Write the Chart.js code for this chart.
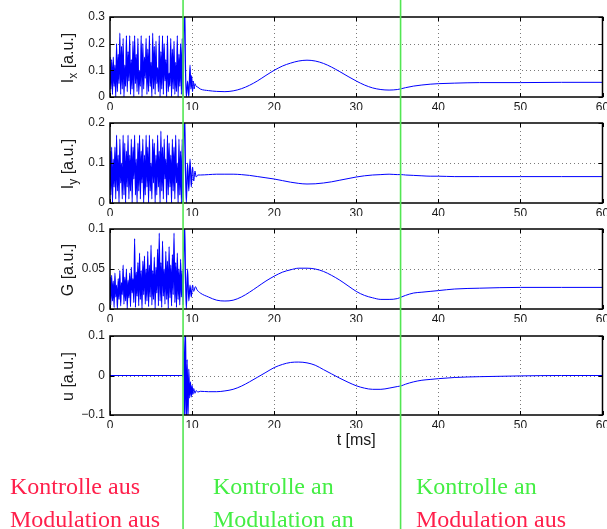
<!DOCTYPE html>
<html><head><meta charset="utf-8">
<script src="https://cdn.jsdelivr.net/npm/chart.js@4/dist/chart.umd.min.js"></script>
<style>
html,body{margin:0;padding:0;background:#fff;width:607px;height:529px;overflow:hidden;}
.pane{position:absolute;left:0;width:607px;}
.pane canvas{display:block;}
.note{position:absolute;font-family:'Liberation Serif','Times New Roman',serif;font-size:24px;line-height:24px;white-space:nowrap;z-index:5;}
</style></head><body>
<div class="pane" style="top:0;height:110px"><canvas id="c1" width="607" height="110"></canvas></div>
<div class="pane" style="top:110px;height:106px"><canvas id="c2" width="607" height="106"></canvas></div>
<div class="pane" style="top:216px;height:106px"><canvas id="c3" width="607" height="106"></canvas></div>
<div class="pane" style="top:322px;height:207px"><canvas id="c4" width="607" height="207"></canvas></div>

<div class="note" style="left:10px;top:474px;color:#ff1f4b">Kontrolle aus</div>
<div class="note" style="left:10px;top:507px;color:#ff1f4b">Modulation aus</div>
<div class="note" style="left:213px;top:474px;color:#44ee44">Kontrolle an</div>
<div class="note" style="left:213px;top:507px;color:#44ee44">Modulation an</div>
<div class="note" style="left:416px;top:474px;color:#44ee44">Kontrolle an</div>
<div class="note" style="left:416px;top:507px;color:#ff1f4b">Modulation aus</div>

<script>
// ---------- data ----------
const chaosStep = 0.1; // ms between samples of the uncontrolled (chaotic) phase, t = 0 ... 8.8
const switchTimes = [8.9, 35.4]; // control on, modulation off

const xTicks = [0, 10, 20, 30, 40, 50, 60];

const ixTicks = [0, 0.1, 0.2, 0.3];
const ixTickLabels = ['0', '0.1', '0.2', '0.3'];
const iyTicks = [0, 0.1, 0.2];
const iyTickLabels = ['0', '0.1', '0.2'];
const gTicks = [0, 0.05, 0.1];
const gTickLabels = ['0', '0.05', '0.1'];
const uTicks = [-0.1, 0, 0.1];
const uTickLabels = ['\u22120.1', '0', '0.1'];

// chaotic phase (control off)
const ixChaos = [0.15,0.03,0.14,0.01,0.15,0.04,0.12,0.00,0.20,0.02,0.16,0.05,0.24,0.01,0.19,0.03,0.22,0.00,0.12,0.04,
  0.23,0.02,0.17,0.06,0.23,0.01,0.14,0.03,0.21,0.00,0.23,0.05,0.16,0.02,0.22,0.01,0.10,0.04,0.23,0.00,
  0.20,0.03,0.15,0.07,0.22,0.01,0.18,0.02,0.23,0.04,0.13,0.00,0.24,0.03,0.19,0.01,0.21,0.05,0.11,0.02,
  0.23,0.00,0.17,0.03,0.23,0.01,0.20,0.06,0.14,0.00,0.23,0.02,0.09,0.04,0.22,0.00,0.18,0.03,0.21,0.01,
  0.13,0.02,0.23,0.00,0.16,0.04,0.20,0.01,0.22];
const iyChaos = [0.13,0.02,0.14,0.00,0.11,0.04,0.14,0.01,0.17,0.03,0.12,0.00,0.16,0.05,0.10,0.01,0.17,0.02,0.15,0.00,
  0.13,0.04,0.17,0.01,0.12,0.03,0.16,0.00,0.14,0.06,0.17,0.02,0.11,0.00,0.15,0.03,0.17,0.01,0.13,0.05,
  0.16,0.00,0.12,0.02,0.17,0.04,0.14,0.00,0.17,0.03,0.10,0.01,0.16,0.05,0.15,0.00,0.12,0.02,0.17,0.04,
  0.13,0.00,0.18,0.03,0.14,0.01,0.16,0.06,0.11,0.00,0.17,0.02,0.15,0.04,0.12,0.00,0.16,0.03,0.14,0.01,
  0.17,0.05,0.10,0.00,0.16,0.02,0.13,0.00,0.16];
const gChaos = [0.040,0.005,0.042,0.010,0.035,0.002,0.045,0.015,0.030,0.000,0.038,0.012,0.048,0.004,0.033,0.018,0.055,0.006,0.040,0.010,
  0.050,0.000,0.036,0.014,0.045,0.003,0.052,0.020,0.038,0.008,0.088,0.002,0.046,0.016,0.058,0.004,0.070,0.012,0.048,0.000,
  0.060,0.018,0.066,0.006,0.050,0.010,0.072,0.003,0.055,0.015,0.080,0.005,0.048,0.012,0.065,0.000,0.052,0.020,0.075,0.004,
  0.095,0.010,0.058,0.002,0.085,0.016,0.050,0.006,0.072,0.012,0.060,0.000,0.078,0.014,0.055,0.004,0.068,0.018,0.095,0.008,
  0.058,0.002,0.070,0.012,0.050,0.005,0.062,0.015,0.048];
const uChaos = [0];

// transient right after control is switched on
const ixTransT = [8.9,9.0,9.1,9.2,9.3,9.45,9.6,9.75,9.85,9.95,10.05,10.15,10.25,10.35,10.5,10.7];
const ixTransV = [0.00,0.25,0.34,0.10,0.00,0.06,0.00,0.12,0.03,0.08,0.02,0.060,0.030,0.050,0.040,0.037];
const iyTransT = [8.9,9.0,9.1,9.2,9.3,9.45,9.6,9.75,9.9,10.05,10.2,10.35,10.5,10.7];
const iyTransV = [0.00,0.17,0.22,0.08,0.00,0.10,0.03,0.11,0.04,0.09,0.055,0.080,0.065,0.070];
const gTransT = [8.9,9.0,9.1,9.2,9.3,9.45,9.6,9.75,9.9,10.05,10.2,10.4,10.6];
const gTransV = [0.005,0.07,0.105,0.04,0.0,0.05,0.01,0.03,0.015,0.03,0.022,0.028,0.024];
const uTransT = [8.9,9.0,9.1,9.2,9.3,9.4,9.5,9.6,9.7,9.8,9.9,10.0,10.1,10.2,10.35,10.5,10.7];
const uTransV = [0,0.12,-0.12,0.12,-0.12,0.04,-0.11,0.016,-0.057,-0.016,-0.054,-0.025,-0.048,-0.033,-0.045,-0.038,-0.042];

// controlled phase (modulated until 35.4 ms, then relaxation)
const smoothT = [11,12,13,14,15,16,17,18,19,20,21,22,23,24,25,26,27,28,29,30,31,32,33,34,35,35.5,36,37,38,39,40,42,45,50,55,60];
const ixSmooth = [0.030,0.024,0.021,0.020,0.023,0.031,0.044,0.061,0.081,0.100,0.116,0.127,0.135,0.138,0.135,0.126,0.112,0.095,0.077,0.060,
  0.045,0.034,0.028,0.026,0.028,0.031,0.035,0.041,0.045,0.048,0.050,0.052,0.054,0.054,0.055,0.055];
const iySmooth = [0.070,0.071,0.072,0.072,0.072,0.071,0.069,0.066,0.063,0.060,0.056,0.052,0.049,0.0475,0.048,0.050,0.053,0.057,0.061,0.065,
  0.068,0.070,0.071,0.072,0.071,0.071,0.070,0.069,0.068,0.067,0.067,0.066,0.066,0.066,0.066,0.066];
const gSmooth = [0.020,0.015,0.011,0.010,0.011,0.015,0.021,0.028,0.035,0.041,0.046,0.049,0.051,0.051,0.050,0.047,0.042,0.036,0.029,0.022,
  0.017,0.014,0.012,0.012,0.013,0.015,0.017,0.020,0.021,0.022,0.023,0.025,0.026,0.027,0.027,0.027];
const uSmooth = [-0.040,-0.041,-0.041,-0.039,-0.035,-0.027,-0.016,-0.004,0.008,0.020,0.028,0.033,0.034,0.032,0.026,0.015,0.004,-0.007,-0.017,-0.026,
  -0.032,-0.035,-0.035,-0.032,-0.028,-0.026,-0.022,-0.016,-0.012,-0.010,-0.008,-0.005,-0.003,-0.001,0.000,0.000];

// ---------- helpers ----------
function buildSeries(chaos, transT, transV, sT, sV) {
  const pts = chaos.map((v, i) => ({x: Math.round(i * chaosStep * 100) / 100, y: v}));
  transT.forEach((t, i) => pts.push({x: t, y: transV[i]}));
  sT.forEach((t, i) => pts.push({x: t, y: sV[i]}));
  return pts;
}

Chart.defaults.font.family = "'Liberation Sans', Arial, sans-serif";
Chart.defaults.font.size = 12;
Chart.defaults.color = '#1a1a1a';

const framePlugin = {
  id: 'frame',
  beforeDatasetsDraw(chart, args, opts) {
    const ctx = chart.ctx, a = chart.chartArea, xs = chart.scales.x, ys = chart.scales.y;
    ctx.save();
    ctx.strokeStyle = '#7a7a7a';
    ctx.lineWidth = 1;
    ctx.setLineDash([1, 3]);
    xTicks.forEach(v => {
      if (v === xs.min || v === xs.max) return;
      const px = Math.round(xs.getPixelForValue(v)) + 0.5;
      ctx.beginPath(); ctx.moveTo(px, a.top); ctx.lineTo(px, a.bottom); ctx.stroke();
    });
    opts.yTicks.forEach(v => {
      if (v === ys.min || v === ys.max) return;
      const py = Math.round(ys.getPixelForValue(v)) + 0.5;
      ctx.beginPath(); ctx.moveTo(a.left, py); ctx.lineTo(a.right, py); ctx.stroke();
    });
    ctx.restore();
  },
  afterDatasetsDraw(chart, args, opts) {
    const ctx = chart.ctx, a = chart.chartArea, xs = chart.scales.x, ys = chart.scales.y;
    ctx.save();
    ctx.strokeStyle = '#000';
    ctx.lineWidth = 1;
    const tl = 4;
    xTicks.forEach(v => {
      const px = Math.round(xs.getPixelForValue(v)) + 0.5;
      ctx.beginPath();
      ctx.moveTo(px, a.bottom); ctx.lineTo(px, a.bottom - tl);
      ctx.moveTo(px, a.top); ctx.lineTo(px, a.top + tl);
      ctx.stroke();
    });
    opts.yTicks.forEach(v => {
      const py = Math.round(ys.getPixelForValue(v)) + 0.5;
      ctx.beginPath();
      ctx.moveTo(a.left, py); ctx.lineTo(a.left + tl, py);
      ctx.moveTo(a.right, py); ctx.lineTo(a.right - tl, py);
      ctx.stroke();
    });
    ctx.lineWidth = 1.5;
    ctx.strokeRect(a.left, a.top, a.right - a.left, a.bottom - a.top);
    ctx.restore();
  },
  afterDraw(chart, args, opts) {
    const ctx = chart.ctx, a = chart.chartArea, xs = chart.scales.x;
    ctx.save();
    const mainFont = "16px 'Liberation Sans', Arial, sans-serif";
    const subFont = "12px 'Liberation Sans', Arial, sans-serif";
    const parts = opts.title;
    let total = 0;
    parts.forEach(p => { ctx.font = p.sub ? subFont : mainFont; p.w = ctx.measureText(p.t).width; total += p.w; });
    ctx.translate(69, (a.top + a.bottom) / 2 + 1);
    ctx.rotate(-Math.PI / 2);
    ctx.fillStyle = '#1a1a1a';
    ctx.textBaseline = 'middle';
    ctx.textAlign = 'left';
    let xpos = -total / 2;
    parts.forEach(p => {
      ctx.font = p.sub ? subFont : mainFont;
      ctx.fillText(p.t, xpos, p.sub ? 5 : 0);
      xpos += p.w;
    });
    ctx.restore();
    if (opts.xTitle) {
      ctx.save();
      ctx.font = mainFont;
      ctx.fillStyle = '#1a1a1a';
      ctx.textAlign = 'center';
      ctx.textBaseline = 'middle';
      ctx.fillText(opts.xTitle, (a.left + a.right) / 2, a.bottom + 26);
      ctx.restore();
    }
    ctx.save();
    ctx.strokeStyle = '#52e652';
    ctx.lineWidth = 1.6;
    switchTimes.forEach(t => {
      const px = xs.getPixelForValue(t);
      ctx.beginPath(); ctx.moveTo(px, 0); ctx.lineTo(px, chart.height); ctx.stroke();
    });
    ctx.restore();
  }
};

function makeChart(id, data, yMin, yMax, yTicks, yLabels, title, padTop, padBottom, xTitle) {
  return new Chart(document.getElementById(id), {
    type: 'line',
    data: { datasets: [{ data: data, borderColor: '#0000ff', borderWidth: 1, pointRadius: 0, fill: false,
      cubicInterpolationMode: 'monotone',
      segment: { borderWidth: c => (c.p1.parsed.x <= switchTimes[0] + 1.2 ? 1.2 : 1) } }] },
    options: {
      responsive: false, animation: false, devicePixelRatio: 1,
      layout: { padding: { top: padTop, left: 0, right: 4.5, bottom: padBottom } },
      plugins: { legend: { display: false }, tooltip: { enabled: false },
        frame: { yTicks: yTicks, title: title, xTitle: xTitle } },
      scales: {
        x: {
          type: 'linear', min: 0, max: 60,
          afterBuildTicks: s => { s.ticks = xTicks.map(v => ({value: v})); },
          grid: { display: false, drawTicks: false },
          border: { display: false },
          ticks: { padding: 3, maxRotation: 0, autoSkip: false, callback: v => String(v) },
          afterFit: s => { s.height = 13; s.paddingLeft = 0; s.paddingRight = 0; }
        },
        y: {
          type: 'linear', min: yMin, max: yMax,
          afterBuildTicks: s => { s.ticks = yTicks.map(v => ({value: v})); },
          grid: { display: false, drawTicks: false },
          border: { display: false },
          ticks: { padding: 5, autoSkip: false, callback: (v, i) => yLabels[i] },
          afterFit: s => { s.width = 110; }
        }
      }
    },
    plugins: [framePlugin]
  });
}

makeChart('c1', buildSeries(ixChaos, ixTransT, ixTransV, smoothT, ixSmooth), 0, 0.3, ixTicks, ixTickLabels,
  [{t: 'I'}, {t: 'x', sub: true}, {t: ' [a.u.]'}], 17, 0, null);
makeChart('c2', buildSeries(iyChaos, iyTransT, iyTransV, smoothT, iySmooth), 0, 0.2, iyTicks, iyTickLabels,
  [{t: 'I'}, {t: 'y', sub: true}, {t: ' [a.u.]'}], 13, 0, null);
makeChart('c3', buildSeries(gChaos, gTransT, gTransV, smoothT, gSmooth), 0, 0.1, gTicks, gTickLabels,
  [{t: 'G [a.u.]'}], 13, 0, null);
makeChart('c4', buildSeries(uChaos, uTransT, uTransV, smoothT, uSmooth), -0.1, 0.1, uTicks, uTickLabels,
  [{t: 'u [a.u.]'}], 14, 101, 't [ms]');
</script>
</body></html>
